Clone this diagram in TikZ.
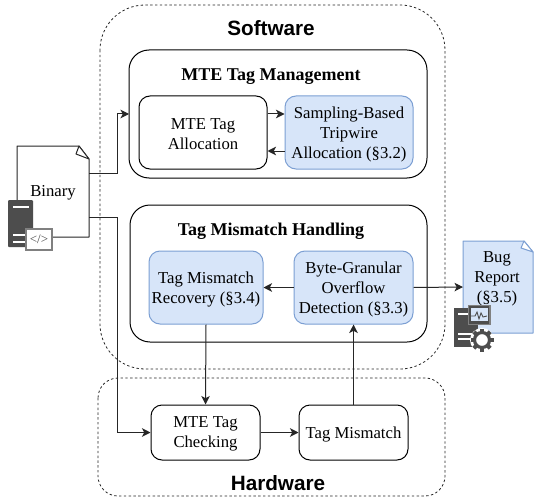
\documentclass[tikz,border=0pt]{standalone}
\usepackage{fontspec}
\setmainfont{Liberation Serif}
\newfontfamily\headfont{Liberation Sans}
\usetikzlibrary{arrows.meta}
\definecolor{lblue}{HTML}{D7E5F9}
\definecolor{bblue}{HTML}{7C9FD3}
\definecolor{dark}{HTML}{4D4D4D}
\definecolor{ggray}{HTML}{808080}
\tikzset{
  x=1pt,y=-1pt,
  conn/.style={draw=black!85,line width=1pt,-{Stealth[length=8.5pt,width=8.5pt,inset=2.2pt]}},
  plain/.style={draw=black!85,line width=1pt},
  region/.style={draw=black!85,line width=0.8pt,dash pattern=on 2.4pt off 2.4pt},
  group/.style={draw=black,line width=1pt,rounded corners=20pt},
  wbox/.style={draw=black,line width=1pt,rounded corners=11pt,fill=white,inner sep=0pt},
  bbox/.style={draw=bblue,line width=1pt,rounded corners=11pt,fill=lblue,inner sep=0pt},
  txt/.style={align=center,font=\fontsize{16.7}{20}\selectfont,inner sep=0pt},
  says/.style={label={[txt,yshift=-1.7pt]center:{#1}}},
  head/.style={font=\fontsize{18}{20}\selectfont\bfseries,inner sep=0pt},
  region label/.style={font=\headfont\fontsize{20.7}{22}\selectfont\bfseries,inner sep=0pt},
  box/.style args={#1x#2}{minimum width=#1pt,minimum height=#2pt},
}
\begin{document}
\begin{tikzpicture}
\useasboundingbox (0,0) rectangle (534,497);
\fill[white] (0,0) rectangle (534,497);
% regions
\draw[region,rounded corners=45pt] (100,5) rectangle (445,369);
\draw[region,rounded corners=20pt] (98,378) rectangle (445,496);
\node[region label] (sw) at (271,28) {Software};
\node[region label] (hw) at (278,483) {Hardware};
% groups
\draw[group] (129,50) rectangle (427,178);
\coordinate (mgmtW) at (129,114);
\node[head] (mgmt) at (271,76.5) {MTE Tag Management};
\draw[group] (130,205) rectangle (427,342);
\node[head] (hand) at (271,231) {Tag Mismatch Handling};
% boxes
\node[wbox,box=128x73,says={MTE Tag\\Allocation}] (alloc) at (203,132.5) {};
\node[bbox,box=128x73,says={Sampling-Based\\Tripwire\\Allocation (§3.2)}] (samp) at (349,132.5) {};
\node[bbox,box=114x73,says={Tag Mismatch\\Recovery (§3.4)}] (recov) at (206,287.5) {};
\node[bbox,box=119x73,says={Byte-Granular\\Overflow\\Detection (§3.3)}] (byte) at (353.5,287.5) {};
\node[wbox,box=109x55,says={MTE Tag\\Checking}] (check) at (205.5,432.5) {};
\node[wbox,box=109x55,says={Tag Mismatch}] (mism) at (353.5,432.5) {};
% binary document
\coordinate (binR1) at (89,173);
\coordinate (binR2) at (89,217);
\draw[plain,fill=white,line join=round] (17,146) -- (79,146) -- (89,159) -- (89,237) -- (17,237) -- cycle;
\draw[plain,fill=white,line join=round] (79,146) -- (76,154) -- (89,159) -- cycle;
\node[txt] (bin) at (53,193) {Binary};
% bug report
\coordinate (bugW) at (463,287);
\draw[draw=bblue,line width=1pt,fill=lblue,line join=round] (463,241) -- (524,241) -- (533,252) -- (533,333) -- (463,333) -- cycle;
\draw[draw=bblue,line width=1pt,fill=white,line join=round] (524,241) -- (521,248) -- (533,252) -- cycle;
\node[txt] (bug) at (497,279) {Bug\\Report\\(§3.5)};
% connectors
\draw[conn] (binR1) -| (117,114) -- (mgmtW);
\draw[plain] (binR2) -- (117,217);
\draw[conn] (117,217) |- (check.west);
\draw[conn] ([yshift=18.5pt]alloc.east) -- ([yshift=18.5pt]samp.west);
\draw[conn] ([yshift=-18.5pt]samp.west) -- ([yshift=-18.5pt]alloc.east);
\draw[conn] (byte.west) -- (recov.east);
\draw[conn] (byte.east) -- (bugW);
\draw[conn] (recov.south) -- (check.north);
\draw[conn] (check.east) -- (mism.west);
\draw[conn] (mism.north) -- (byte.south);
% server icon (binary)
\fill[dark,rounded corners=1pt] (8,200) rectangle (33,247);
\fill[white] (13,206) rectangle (29,208);
\fill[white] (13,234) rectangle (26,236);
\fill[white] (13,241) rectangle (26,243);
\draw[draw=ggray,line width=1.3pt,fill=white] (26,229) rectangle (52,250);
\node[font=\fontsize{13}{13}\selectfont,text=dark,inner sep=0pt] (code) at (39,239.5) {</>};
% server icon (bug)
\fill[dark] (454,308) rectangle (478,347);
\fill[white] (458,313) rectangle (470,315);
\fill[white] (458,333) rectangle (474,334.5);
\fill[white] (458,338) rectangle (474,339.5);
% gear
\fill[white] (482,340) circle (12pt);
\foreach \a in {0,45,...,315}{
  \fill[dark,rotate around={\a:(482,340)}] (480,328.5) rectangle (484,333);
}
\draw[dark,line width=3.2pt] (482,340) circle (7.5pt);
% monitor
\draw[draw=ggray,line width=1.3pt,fill=dark] (468.5,305.5) rectangle (490,324.5);
\fill[lblue] (470.5,308) rectangle (488,321);
\draw[dark,line width=0.9pt] (471,316) -- (475,316) -- (477,312) -- (479,319) -- (481,313) -- (483,317) -- (487,316);
\end{tikzpicture}
\end{document}
